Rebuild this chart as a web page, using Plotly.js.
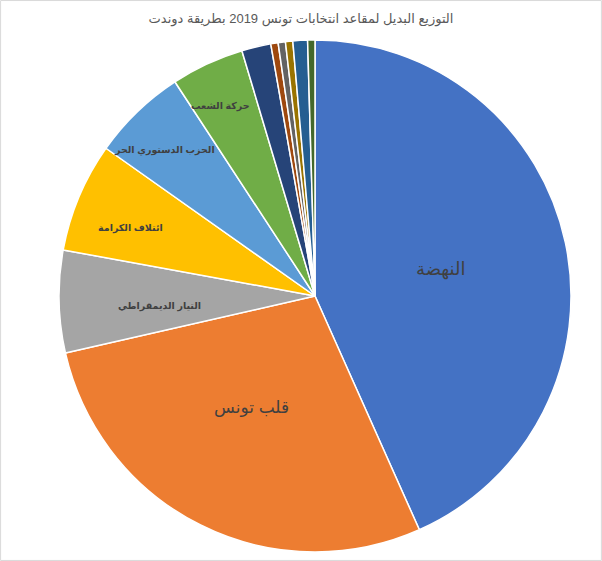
<!DOCTYPE html>
<html>
<head>
<meta charset="utf-8">
<script src="https://cdn.plot.ly/plotly-3.0.1.min.js"></script>
<style>html,body{margin:0;padding:0;background:#fff;}#chart{width:602px;height:561px;}</style>
</head>
<body>
<div id="chart"></div>
<script>
const parties = ["النهضة", "قلب تونس", "التيار الديمقراطي", "ائتلاف الكرامة", "الحزب الدستوري الحر", "حركة الشعب", "تحيا تونس", "مشروع تونس", "نداء تونس", "البديل التونسي", "آفاق تونس", "قوائم أخرى"];
const seats = [94, 61, 14, 15, 13, 10, 4, 1, 1, 1, 2, 1];
const colors = ["#4472C4", "#ED7D31", "#A5A5A5", "#FFC000", "#5B9BD5", "#70AD47", "#264478", "#9E480E", "#636363", "#997300", "#255E91", "#43682B"];
const labelledCount = 6;

// layout settings (not data)
const W = 602, H = 561;
const dom = {x: [0.098, 0.9485], y: [0.016, 0.9287]};
const R = 256;
const labelRadius = [0.50, 0.50, 0.61, 0.77, 0.82, 0.83];
const labelAngleShift = [0, 3, -2.5, -2.5, -2, -1.5];
const labelSize = [18, 17, 9.5, 9.5, 9.5, 9.5];
const labelBold = [false, false, true, true, true, true];

const data = [{
  type: "pie",
  labels: parties,
  values: seats,
  textinfo: "none",
  sort: false,
  direction: "clockwise",
  rotation: 0,
  marker: {colors: colors, line: {color: "#ffffff", width: 1.5}},
  domain: dom,
  hoverinfo: "label+value"
}];

const total = seats.reduce((a, b) => a + b, 0);
const cx = (dom.x[0] + dom.x[1]) / 2, cy = (dom.y[0] + dom.y[1]) / 2;
const annotations = [];
let cum = 0;
seats.forEach((v, i) => {
  const midDeg = (cum + v / 2) / total * 360;
  cum += v;
  if (i >= labelledCount) return;
  const a = (midDeg + labelAngleShift[i]) * Math.PI / 180;
  const r = R * labelRadius[i];
  annotations.push({
    xref: "paper", yref: "paper",
    x: cx + r * Math.sin(a) / W,
    y: cy + r * Math.cos(a) / H,
    text: parties[i], showarrow: false,
    xanchor: "center", yanchor: "middle",
    font: {family: "Arial, 'DejaVu Sans', sans-serif", size: labelSize[i], color: "#404040", weight: labelBold[i] ? "bold" : "normal"}
  });
});

const layout = {
  width: W, height: H,
  margin: {l: 0, r: 0, t: 0, b: 0},
  paper_bgcolor: "#ffffff",
  showlegend: false,
  title: {text: "التوزيع البديل لمقاعد انتخابات تونس 2019 بطريقة دوندت", x: 0.5, xanchor: "center", y: 0.968, yanchor: "middle", font: {family: "Arial, 'DejaVu Sans', sans-serif", size: 13, color: "#595959"}},
  annotations: annotations,
  shapes: [{type: "rect", xref: "paper", yref: "paper", x0: 0.001, x1: 0.999, y0: 0.001, y1: 0.999, line: {color: "#D9D9D9", width: 1}}]
};

Plotly.newPlot("chart", data, layout, {displayModeBar: false, staticPlot: true});
</script>
</body>
</html>
